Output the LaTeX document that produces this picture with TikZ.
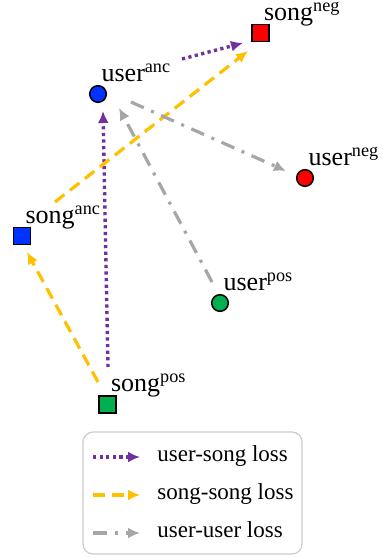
\documentclass[tikz,border=0pt]{standalone}
\usepackage{fontspec}
\setmainfont{Liberation Serif}
\usepackage{tikz}
\usetikzlibrary{arrows.meta}

\definecolor{uspurple}{HTML}{7030A0}
\definecolor{ssorange}{HTML}{FFC000}
\definecolor{uugray}{HTML}{A6A6A6}
\definecolor{ancblue}{HTML}{0033FF}
\definecolor{posgreen}{HTML}{00B050}
\definecolor{negred}{HTML}{FF0000}

\tikzset{
	user/.style={draw, circle, line width=0.75pt, minimum size=8.3pt, inner sep=0pt},
	song/.style={draw, rectangle, line width=0.75pt, minimum size=8.3pt, inner sep=0pt},
	lbl/.style={anchor=base west, inner sep=0pt, xshift=1.6pt, yshift=6.5pt, font=\fontsize{13}{15}\selectfont},
	usloss/.style={draw, uspurple, line width=1.7pt, dash pattern=on 1.6pt off 1.7pt, -{Latex[length=6pt, width=5.5pt]}},
	ssloss/.style={draw, ssorange, line width=1.6pt, dash pattern=on 6pt off 3.5pt, -{Latex[length=6pt, width=5.5pt]}},
	uuloss/.style={draw, uugray, line width=1.6pt, dash pattern=on 7pt off 4pt on 1.5pt off 4pt, -{Latex[length=6pt, width=5.5pt]}},
	legtext/.style={anchor=base west, inner sep=0pt, font=\fontsize{11.5}{14}\selectfont}
}

\begin{document}
\begin{tikzpicture}[x=0.5pt, y=-0.5pt]
		\useasboundingbox (0, 0) rectangle (383, 558);

		\node[song, fill=negred] (sn) at (260.5, 33) {};
		\node[user, fill=ancblue] (ua) at (98, 94) {};
		\node[user, fill=negred] (un) at (305, 178) {};
		\node[song, fill=ancblue] (sa) at (22, 236) {};
		\node[user, fill=posgreen] (up) at (220, 303) {};
		\node[song, fill=posgreen] (sp) at (107.5, 404.5) {};

		\node[lbl] (sn-t) at (sn.center) {song\textsuperscript{neg}};
		\node[lbl] (ua-t) at (ua.center) {user\textsuperscript{anc}};
		\node[lbl] (un-t) at (un.center) {user\textsuperscript{neg}};
		\node[lbl] (sa-t) at (sa.center) {song\textsuperscript{anc}};
		\node[lbl] (up-t) at (up.center) {user\textsuperscript{pos}};
		\node[lbl] (sp-t) at (sp.center) {song\textsuperscript{pos}};

		\path[usloss] ([shift={(84, -35)}]ua.center) -- ([shift={(-17.5, 10)}]sn.center);
		\path[usloss] ([shift={(0.5, -37.5)}]sp.center) -- ([shift={(5, 17)}]ua.center);
		\path[ssloss] ([shift={(-9.5, -22.5)}]sp.center) -- ([shift={(5, 16)}]sa.center);
		\path[ssloss] ([shift={(33, -34)}]sa.center) -- ([shift={(-12.5, 18)}]sn.center);
		\path[uuloss] ([shift={(33, 8)}]ua.center) -- ([shift={(-19, -7)}]un.center);
		\path[uuloss] ([shift={(-8, -21)}]up.center) -- ([shift={(21, 14)}]ua.center);

		% legend
		\draw[rounded corners=5pt, black!20, line width=0.6pt] (83, 432) rectangle (302, 554);
		\coordinate (us0) at (93, 457);
		\coordinate (us1) at (140, 457);
		\coordinate (ss0) at (93, 495);
		\coordinate (ss1) at (140, 495);
		\coordinate (uu0) at (93, 533);
		\coordinate (uu1) at (140, 533);
		\path[usloss] (us0) -- (us1);
		\path[ssloss] (ss0) -- (ss1);
		\path[uuloss] (uu0) -- (uu1);
		\node[legtext] (ust) at (157, 461.5) {user-song loss};
		\node[legtext] (sst) at (157, 499.5) {song-song loss};
		\node[legtext] (uut) at (157, 537.5) {user-user loss};
\end{tikzpicture}
\end{document}
